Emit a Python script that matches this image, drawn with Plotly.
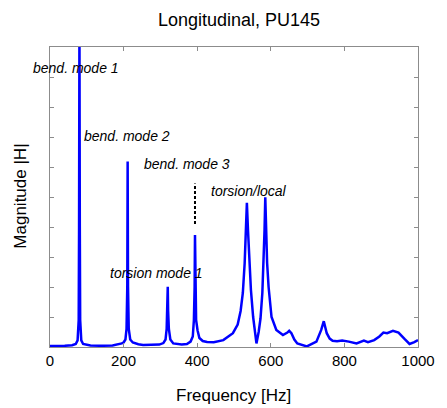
import plotly.graph_objects as go

# ---- data ----
freq_hz = [0, 20, 40, 60, 70, 75, 78, 79, 80, 81, 82, 85, 90, 110, 140, 170, 195,
           200, 205, 208, 210, 211, 212, 214, 218, 225, 240, 253, 275, 297,
           308, 314, 317, 319, 320, 321, 323, 327, 335, 358, 372, 382, 388, 391,
           393, 394, 395, 397, 401, 406, 415, 427, 445, 471, 497, 510, 518, 524,
           529, 532, 535, 538, 541, 546, 552, 556, 561, 567, 572, 577, 581, 583,
           585, 587, 590, 594, 598, 602, 615, 633, 645, 650, 656, 664, 672, 698,
           724, 737, 744, 748, 752, 760, 768, 780, 794, 812, 833, 853, 864, 881,
           895, 906, 916, 932, 947, 964, 977, 990, 1000]
magnitude = [0.03, 0.03, 0.04, 0.06, 0.1, 0.22, 0.9, 4.0, 11.0, 4.0, 0.9, 0.22, 0.1, 0.05, 0.04, 0.05, 0.12,
             0.15, 0.25, 0.6, 2.0, 6.18, 2.0, 0.6, 0.25, 0.15, 0.09, 0.07, 0.07, 0.08,
             0.13, 0.25, 0.6, 1.2, 2.01, 1.2, 0.6, 0.25, 0.12, 0.08, 0.1, 0.18, 0.35, 0.9,
             2.0, 3.73, 2.0, 0.9, 0.55, 0.3, 0.2, 0.17, 0.16, 0.23, 0.46, 0.75, 1.2, 1.8,
             2.8, 3.8, 4.81, 3.9, 3.0, 1.9, 1.0, 0.5, 0.12, 0.5, 0.95, 1.8, 2.9, 3.9,
             4.99, 4.0, 2.8, 2.0, 1.4, 1.0, 0.57, 0.4, 0.48, 0.54, 0.46, 0.25, 0.12, 0.02,
             0.18, 0.57, 0.86, 0.65, 0.46, 0.28, 0.21, 0.19, 0.22, 0.18, 0.12, 0.21, 0.16, 0.23,
             0.35, 0.48, 0.46, 0.54, 0.48, 0.26, 0.1, 0.16, 0.23]

marker_hz = [394, 394]
marker_mag = [4.1, 5.45]

x_ticks = [0, 200, 400, 600, 800, 1000]
y_ticks = [0, 1, 2, 3, 4, 5, 6, 7, 8, 9, 10]

labels = ["bend. mode 1", "bend. mode 2", "bend. mode 3", "torsion/local", "torsion mode 1"]
# label anchor positions in window pixels (left edge, vertical centre)
label_px = [(30, 68), (83, 136), (145, 164), (215, 191), (110, 273)]

OFF = 8  # default page margin of the html body
PL, PR, PT, PB = 50 - OFF, 432 - OFF, 47 - OFF, 347 - OFF
W, H = 447 - OFF, 408 - OFF


def px_x(px):
    return (px - OFF - PL) / (PR - PL)


def px_y(py):
    return (PB - (py - OFF)) / (PB - PT)


FONT = "Liberation Sans, Arial"

fig = go.Figure()
fig.add_trace(go.Scatter(x=freq_hz, y=magnitude, mode="lines",
                         line=dict(color="#0000ff", width=2.5), hoverinfo="skip"))
fig.add_trace(go.Scatter(x=marker_hz, y=marker_mag, mode="lines",
                         line=dict(color="black", width=2, dash="3px,2px"), hoverinfo="skip"))

ann = []
for t, (px, py) in zip(labels, label_px):
    ann.append(dict(text="<i>%s</i>" % t, xref="paper", yref="paper",
                    x=px_x(px), y=px_y(py),
                    xanchor="left", yanchor="middle", showarrow=False,
                    font=dict(size=14, color="black", family=FONT)))
ann.append(dict(text="Longitudinal, PU145", xref="paper", yref="paper",
                x=px_x(246), y=px_y(20),
                xanchor="center", yanchor="middle", showarrow=False,
                font=dict(size=18, color="black", family=FONT)))
ann.append(dict(text="Frequency [Hz]", xref="paper", yref="paper",
                x=px_x(240), y=px_y(395),
                xanchor="center", yanchor="middle", showarrow=False,
                font=dict(size=17, color="black", family=FONT)))
ann.append(dict(text="Magnitude |H|", xref="paper", yref="paper",
                x=px_x(18.5), y=px_y(196),
                xanchor="center", yanchor="middle", showarrow=False, textangle=-90,
                font=dict(size=17, color="black", family=FONT)))

axis_common = dict(showgrid=False, zeroline=False, showline=True, linecolor="#8c8c8c",
                   linewidth=1, mirror="ticks", ticks="inside", ticklen=4,
                   tickcolor="#8c8c8c", tickwidth=1)

fig.update_layout(
    width=W, height=H,
    margin=dict(l=PL, r=W - PR, t=PT, b=H - PB),
    paper_bgcolor="white", plot_bgcolor="white",
    showlegend=False,
    annotations=ann,
    xaxis=dict(range=[0, 1000], tickvals=x_ticks, ticktext=[str(v) for v in x_ticks],
               ticklabeloverflow="allow",
               tickfont=dict(size=15, color="black", family=FONT),
               **axis_common),
    yaxis=dict(range=[0, 10], tickvals=y_ticks, showticklabels=False, **axis_common),
)

fig.write_html("out.html")
